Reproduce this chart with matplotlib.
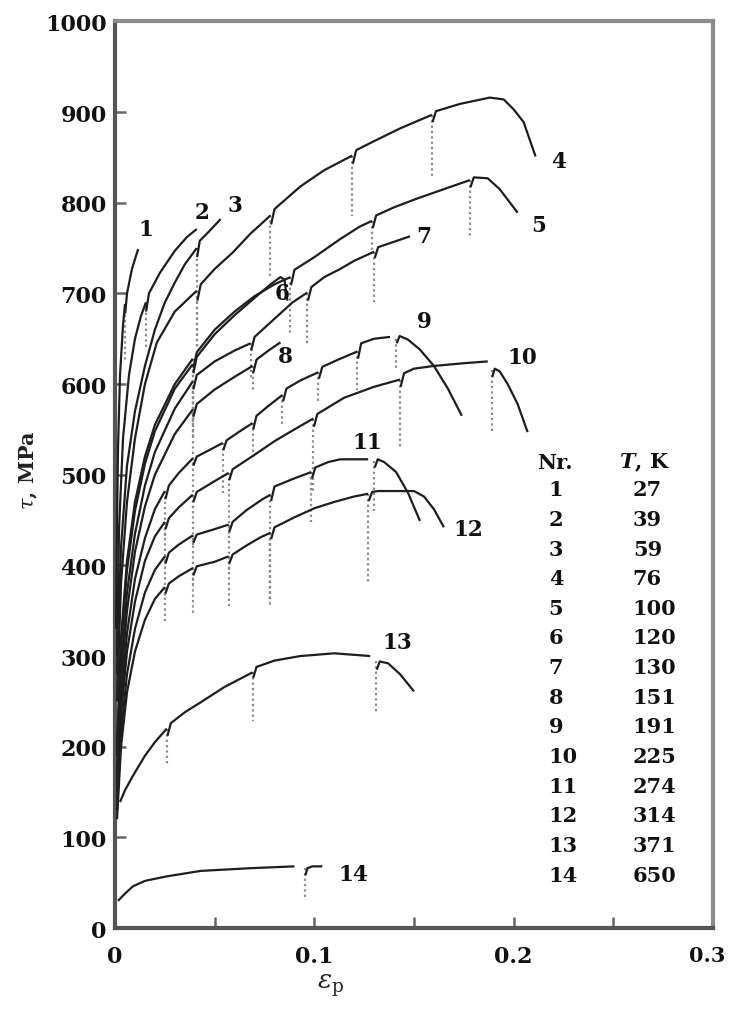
import numpy as np
import matplotlib
matplotlib.use("Agg")
import matplotlib.pyplot as plt
from matplotlib.transforms import ScaledTranslation

plt.rcParams["mathtext.fontset"] = "dejavuserif"
nan = np.nan

# ---------------- data (strain eps_p, stress tau in MPa) ----------------
curve_nr = [1, 2, 3, 4, 5, 6, 7, 8, 9, 10, 11, 12, 13, 14]
temps_K = [27, 39, 59, 76, 100, 120, 130, 151, 191, 225, 274, 314, 371, 650]

eps1 = [0.0005, 0.001, 0.0015, 0.0025, 0.004, 0.005, nan, 0.0051, 0.006, 0.0085, 0.0116]
tau1 = [330, 450, 530, 610, 665, 688, nan, 678, 700, 727, 749]
drop1 = [(0.005, 688, 625)]

eps2 = [0.001, 0.002, 0.004, 0.007, 0.010, 0.013, 0.0155, nan, 0.0156, 0.017, 0.0226, 0.030, 0.036, 0.041]
tau2 = [300, 440, 540, 610, 650, 675, 690, nan, 680, 700, 723, 747, 762, 771]
drop2 = [(0.0155, 690, 640)]

eps3 = [0.001, 0.003, 0.006, 0.010, 0.015, 0.020, 0.025, 0.030, 0.035, 0.041, nan,
        0.0412, 0.0425, 0.047, 0.053]
tau3 = [280, 420, 510, 570, 620, 660, 690, 712, 732, 750, nan,
        740, 758, 768, 782]
drop3 = [(0.041, 750, 640)]

eps4 = [0.001, 0.003, 0.006, 0.010, 0.015, 0.021, 0.030, 0.041, nan,
        0.0413, 0.043, 0.050, 0.059, 0.068, 0.078, nan,
        0.0783, 0.080, 0.093, 0.105, 0.119, nan,
        0.1193, 0.121, 0.130, 0.143, 0.159, nan,
        0.1593, 0.161, 0.173, 0.188, 0.195, 0.200, 0.205, 0.211]
tau4 = [250, 380, 470, 540, 600, 646, 680, 703, nan,
        692, 710, 727, 745, 766, 786, nan,
        776, 793, 818, 836, 852, nan,
        843, 858, 868, 882, 897, nan,
        889, 901, 909, 916, 914, 903, 889, 851]
drop4 = [(0.041, 703, 642), (0.078, 786, 719), (0.119, 852, 785), (0.159, 897, 829)]

eps5 = [0.001, 0.003, 0.006, 0.010, 0.015, 0.020, 0.030, 0.039, nan,
        0.0393, 0.041, 0.050, 0.060, 0.070, 0.080, 0.088, nan,
        0.0883, 0.090, 0.100, 0.113, 0.123, 0.129, nan,
        0.1293, 0.131, 0.140, 0.152, 0.165, 0.178, nan,
        0.1783, 0.180, 0.187, 0.193, 0.202]
tau5 = [200, 320, 405, 470, 520, 555, 600, 628, nan,
        618, 635, 660, 680, 697, 710, 718, nan,
        709, 726, 740, 760, 774, 780, nan,
        772, 786, 795, 805, 815, 825, nan,
        817, 828, 827, 815, 789]
drop5 = [(0.039, 628, 560), (0.088, 718, 655), (0.129, 780, 745), (0.178, 825, 763)]

eps6 = [0.001, 0.003, 0.006, 0.010, 0.015, 0.020, 0.030, 0.039, nan,
        0.0393, 0.041, 0.050, 0.060, 0.070, 0.078, 0.083, 0.085, 0.0865]
tau6 = [190, 310, 395, 460, 512, 548, 595, 622, nan,
        612, 630, 655, 676, 695, 710, 718, 715, 692]
drop6 = [(0.039, 622, 555)]

eps7 = [0.001, 0.003, 0.006, 0.010, 0.015, 0.020, 0.030, 0.039, nan,
        0.0393, 0.041, 0.050, 0.060, 0.068, nan,
        0.0683, 0.070, 0.080, 0.089, 0.0965, nan,
        0.0968, 0.0985, 0.105, 0.113, 0.120, 0.130, nan,
        0.1303, 0.132, 0.140, 0.148]
tau7 = [170, 285, 370, 435, 488, 525, 573, 603, nan,
        594, 610, 625, 637, 645, nan,
        637, 652, 672, 690, 701, nan,
        692, 707, 718, 727, 736, 746, nan,
        739, 751, 757, 763]
drop7 = [(0.039, 603, 540), (0.068, 645, 605), (0.0965, 701, 642), (0.130, 746, 690)]

eps8 = [0.001, 0.003, 0.006, 0.010, 0.015, 0.020, 0.030, 0.039, nan,
        0.0393, 0.041, 0.050, 0.060, 0.069, nan,
        0.0693, 0.071, 0.077, 0.083]
tau8 = [160, 270, 350, 415, 465, 500, 545, 572, nan,
        564, 578, 594, 608, 620, nan,
        612, 627, 637, 646]
drop8 = [(0.039, 572, 510), (0.069, 620, 594)]

eps9 = [0.001, 0.003, 0.006, 0.010, 0.015, 0.020, 0.025, nan,
        0.0253, 0.027, 0.032, 0.039, nan,
        0.0393, 0.041, 0.048, 0.054, nan,
        0.0543, 0.056, 0.062, 0.069, nan,
        0.0693, 0.071, 0.077, 0.084, nan,
        0.0843, 0.086, 0.093, 0.102, nan,
        0.1023, 0.104, 0.112, 0.1216, nan,
        0.1219, 0.1235, 0.130, 0.138, nan,
        0.1413, 0.1428, 0.147, 0.153, 0.160, 0.167, 0.174]
tau9 = [150, 250, 325, 385, 430, 462, 482, nan,
        473, 488, 502, 518, nan,
        510, 520, 528, 535, nan,
        527, 538, 547, 557, nan,
        550, 565, 576, 588, nan,
        581, 595, 604, 613, nan,
        606, 619, 627, 636, nan,
        628, 645, 650, 652, nan,
        645, 653, 649, 638, 620, 595, 565]
drop9 = [(0.025, 482, 430), (0.039, 518, 460), (0.054, 535, 480), (0.069, 557, 520),
         (0.084, 588, 555), (0.102, 613, 580), (0.1216, 636, 594), (0.141, 650, 616)]

eps10 = [0.001, 0.003, 0.006, 0.010, 0.015, 0.020, 0.025, nan,
         0.0253, 0.027, 0.032, 0.039, nan,
         0.0393, 0.041, 0.050, 0.057, nan,
         0.0573, 0.059, 0.070, 0.080, 0.090, 0.0995, nan,
         0.0998, 0.1015, 0.115, 0.130, 0.143, nan,
         0.1433, 0.145, 0.150, 0.160, 0.175, 0.187, nan,
         0.1893, 0.1905, 0.193, 0.197, 0.202, 0.207]
tau10 = [140, 235, 305, 360, 405, 432, 448, nan,
         440, 452, 464, 478, nan,
         470, 481, 493, 502, nan,
         494, 506, 522, 537, 550, 562, nan,
         553, 567, 585, 597, 605, nan,
         597, 612, 617, 620, 623, 625, nan,
         608, 617, 614, 600, 578, 547]
drop10 = [(0.025, 448, 400), (0.039, 478, 420), (0.057, 502, 430), (0.0995, 562, 481),
          (0.143, 605, 528), (0.189, 616, 547)]

eps11 = [0.001, 0.003, 0.006, 0.010, 0.015, 0.020, 0.025, nan,
         0.0253, 0.027, 0.032, 0.039, nan,
         0.0393, 0.041, 0.050, 0.057, nan,
         0.0573, 0.059, 0.066, 0.074, 0.078, nan,
         0.0783, 0.080, 0.090, 0.0985, nan,
         0.0988, 0.1005, 0.107, 0.113, 0.127, nan,
         0.1303, 0.1318, 0.135, 0.141, 0.147, 0.153]
tau11 = [130, 215, 280, 330, 370, 395, 410, nan,
         402, 414, 423, 433, nan,
         425, 434, 440, 445, nan,
         437, 448, 461, 473, 478, nan,
         471, 487, 496, 503, nan,
         496, 508, 514, 517, 517, nan,
         508, 517, 514, 503, 480, 449]
drop11 = [(0.025, 410, 365), (0.039, 433, 380), (0.057, 445, 390), (0.078, 478, 360),
          (0.0985, 503, 448), (0.130, 515, 460)]

eps12 = [0.001, 0.003, 0.006, 0.010, 0.015, 0.020, 0.025, nan,
         0.0253, 0.027, 0.032, 0.039, nan,
         0.0393, 0.041, 0.050, 0.057, nan,
         0.0573, 0.059, 0.066, 0.073, 0.078, nan,
         0.0783, 0.080, 0.090, 0.100, 0.110, 0.120, 0.127, nan,
         0.1273, 0.129, 0.132, 0.141, 0.150, 0.155, 0.160, 0.165]
tau12 = [120, 200, 260, 305, 340, 363, 376, nan,
         369, 380, 388, 397, nan,
         389, 399, 404, 410, nan,
         402, 412, 422, 431, 436, nan,
         429, 442, 453, 463, 470, 476, 479, nan,
         471, 481, 482, 482, 482, 476, 462, 442]
drop12 = [(0.025, 376, 335), (0.039, 397, 345), (0.057, 410, 355), (0.078, 436, 355),
          (0.127, 479, 381)]

eps13 = [0.0025, 0.005, 0.009, 0.015, 0.020, 0.026, nan,
         0.0263, 0.028, 0.035, 0.043, 0.055, 0.069, nan,
         0.0693, 0.071, 0.080, 0.093, 0.110, 0.128, nan,
         0.1313, 0.1328, 0.137, 0.143, 0.150]
tau13 = [139, 152, 168, 190, 205, 220, nan,
         212, 226, 238, 249, 266, 282, nan,
         276, 288, 295, 300, 303, 300, nan,
         285, 294, 292, 280, 261]
drop13 = [(0.026, 220, 179), (0.069, 282, 228), (0.131, 294, 238)]

eps14 = [0.0015, 0.005, 0.009, 0.015, 0.026, 0.043, 0.068, 0.090, nan,
         0.0955, 0.0965, 0.099, 0.104]
tau14 = [30, 38, 46, 52, 57, 63, 66, 68, nan,
         58, 66, 68, 68]
drop14 = [(0.0955, 66, 32)]

# curve number labels (position of the number next to each curve)
label_eps = [0.0156, 0.0437, 0.0603, 0.2226, 0.2126, 0.0839, 0.1548,
             0.0854, 0.1553, 0.2045, 0.1266, 0.1774, 0.1417, 0.1196]
label_tau = [771, 790, 798, 846, 776, 701, 763,
             631, 670, 630, 536, 440, 315, 60]

# ---------------- figure ----------------
curves_eps = [eps1, eps2, eps3, eps4, eps5, eps6, eps7, eps8, eps9, eps10, eps11, eps12, eps13, eps14]
curves_tau = [tau1, tau2, tau3, tau4, tau5, tau6, tau7, tau8, tau9, tau10, tau11, tau12, tau13, tau14]
drops = [drop1, drop2, drop3, drop4, drop5, drop6, drop7, drop8, drop9, drop10, drop11, drop12, drop13, drop14]

FONT = "DejaVu Serif"
fig = plt.figure(figsize=(7.29, 10.20), dpi=100)
ax = fig.add_axes([0.1578, 0.0892, 0.8202, 0.8888])

for dl in drops:
    for (xd, top, bot) in dl:
        ax.plot([xd, xd], [top, bot], color="#8a8a8a", lw=1.6,
                linestyle=(0, (1.0, 1.4)), zorder=2)

for e, t in zip(curves_eps, curves_tau):
    ax.plot(e, t, color="#1e1e1e", lw=1.6, zorder=3, solid_capstyle="butt")

for n, x, y in zip(curve_nr, label_eps, label_tau):
    ax.text(x, y, str(n), fontsize=15.5, fontweight="bold", family=FONT,
            ha="center", va="center", color="#111111", zorder=5)

# table of temperatures
tab_x_nr = 0.2176
tab_x_T = 0.2598
head_tau = 514
row_tau0 = 484
row_step = 32.7
ax.text(0.212, head_tau, "Nr.", fontsize=15, fontweight="bold", family=FONT,
        ha="left", va="center", color="#111111")
ax.text(0.2528, head_tau, r"$\mathbfit{T}$, K", fontsize=15, fontweight="bold", family=FONT,
        ha="left", va="center", color="#111111")
for i, (n, T) in enumerate(zip(curve_nr, temps_K)):
    y = row_tau0 - i * row_step
    ax.text(tab_x_nr, y, str(n), fontsize=15, fontweight="bold", family=FONT,
            ha="left", va="center", color="#111111")
    ax.text(tab_x_T, y, str(T), fontsize=15, fontweight="bold", family=FONT,
            ha="left", va="center", color="#111111")

ax.set_xlim(0, 0.3)
ax.set_ylim(0, 1000)
ax.set_xticks([0, 0.1, 0.2, 0.3])
ax.set_xticklabels(["0", "0.1", "0.2", "0.3"])
ax.set_xticks([0.05, 0.15, 0.25], minor=True)
ax.set_yticks(np.arange(0, 1001, 100))
ax.tick_params(axis="both", which="both", direction="in", length=8, width=1.8,
               color="#666666", top=False, right=False)
ax.tick_params(axis="y", pad=6)
ax.tick_params(axis="x", pad=12)
for lab in ax.get_xticklabels() + ax.get_yticklabels():
    lab.set_fontfamily(FONT)
    lab.set_fontweight("bold")
    lab.set_fontsize(16)
    lab.set_color("#111111")
last = ax.get_xticklabels()[-1]
last.set_fontsize(15)
last.set_transform(last.get_transform() + ScaledTranslation(-0.06, 0, fig.dpi_scale_trans))

for side, col in [("left", "#555555"), ("bottom", "#555555"), ("top", "#8c8c8c"), ("right", "#8c8c8c")]:
    ax.spines[side].set_color(col)
    ax.spines[side].set_linewidth(3)

ax.set_ylabel(r"$\tau$, MPa", fontsize=15, fontweight="bold", family=FONT, color="#222222")
ax.yaxis.set_label_coords(-0.125, 0.506)
ax.text(0.36, -0.062, r"$\varepsilon_{\mathrm{p}}$", transform=ax.transAxes,
        fontsize=19, ha="center", va="center", color="#222222")

fig.savefig("out.png", dpi=100)
